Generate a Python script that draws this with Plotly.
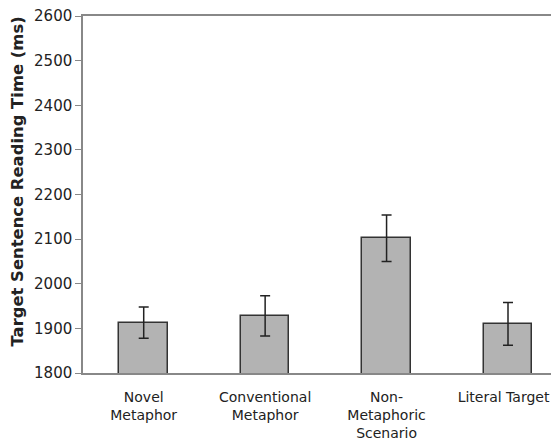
import plotly.graph_objects as go

categories = ["Novel<br>Metaphor", "Conventional<br>Metaphor", "Non-<br>Metaphoric<br>Scenario", "Literal Target"]
means = [1913, 1928, 2102, 1910]
errors = [35, 45, 52, 48]
y_ticks = [1800, 1900, 2000, 2100, 2200, 2300, 2400, 2500, 2600]
y_title = "Target Sentence Reading Time (ms)"

# page body has an 8px margin, so the figure is laid out shifted by -8px
L, T, B, R = 75, 8, 76, 8
W, H = 559, 441
plot_w = W - L - R
plot_h = H - T - B

# last label is nudged left (as in the reference) with trailing non-breaking spaces
tick_text = categories[:-1] + [categories[-1] + "&nbsp;&nbsp;"]

fig = go.Figure()
fig.add_trace(go.Bar(
    x=list(range(len(categories))), y=means, width=0.40,
    marker=dict(color="#b3b3b3", line=dict(color="#333333", width=1.5)),
    error_y=dict(type="data", array=errors, visible=True, color="#222222", thickness=1.5, width=5),
))
fig.update_layout(
    width=W, height=H,
    margin=dict(l=L, r=R, t=T, b=B),
    paper_bgcolor="white", plot_bgcolor="white",
    showlegend=False,
    font=dict(family="DejaVu Sans", color="#222222"),
    bargap=0,
)
fig.update_xaxes(
    tickmode="array", tickvals=list(range(len(categories))), ticktext=tick_text,
    range=[-0.5, 3.42], showline=True, linecolor="#888888", linewidth=1.5, mirror=True,
    ticks="outside", ticklen=10, tickcolor="rgba(0,0,0,0)", ticklabeloverflow="allow",
    tickfont=dict(size=14, color="#222222"), showgrid=False, zeroline=False,
    automargin=False,
)
fig.update_yaxes(
    range=[1800, 2600], tickvals=y_ticks, showline=True, linecolor="#888888", linewidth=1.5,
    ticks="outside", ticklen=6, tickcolor="#888888", ticklabeloverflow="allow",
    tickfont=dict(size=15, color="#222222"), showgrid=False, zeroline=False,
    automargin=False,
)
fig.add_annotation(
    text="<b>" + y_title + "</b>", textangle=-90,
    xref="paper", yref="paper", x=(9 - L) / plot_w, y=(H - B - 173.5) / plot_h,
    xanchor="center", yanchor="middle", showarrow=False,
    font=dict(size=16.4, color="#222222"),
)
fig.write_html("out.html")
